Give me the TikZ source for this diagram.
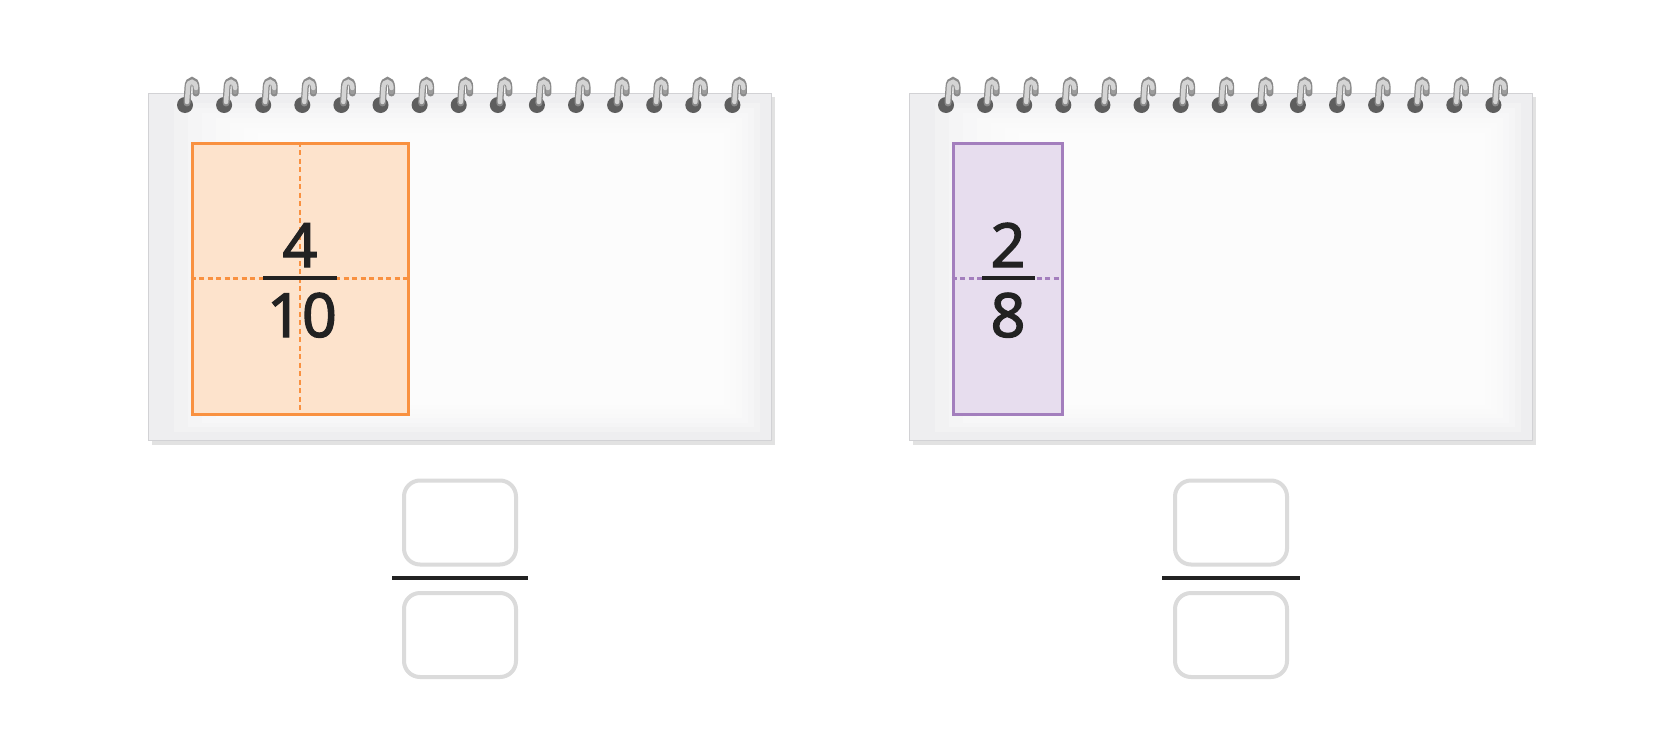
\documentclass[tikz,border=0pt]{standalone}
\usepackage{fontspec}
\setmainfont{Noto Sans}
\newfontfamily\digitfont[FakeBold=2]{Noto Sans}
\definecolor{papergray}{HTML}{EEEEF0}
\definecolor{paperedge}{HTML}{D2D2D5}
\definecolor{shadowgray}{HTML}{E2E2E2}
\definecolor{holegray}{HTML}{5E5E5E}
\definecolor{wireedge}{HTML}{8A8A8A}
\definecolor{wirelight}{HTML}{D4D4D4}
\definecolor{wiredark}{HTML}{9C9C9C}
\definecolor{orangeline}{HTML}{F99140}
\definecolor{orangefill}{HTML}{FDE3CC}
\definecolor{purpleline}{HTML}{A37EBD}
\definecolor{purplefill}{HTML}{E7DDEE}
\definecolor{boxgray}{HTML}{DBDBDB}
\definecolor{inkblack}{HTML}{222222}
\begin{document}
\begin{tikzpicture}[x=1pt,y=-1pt,
  papershadow/.style={fill=shadowgray, draw=none},
  paper/.style={fill=papergray, draw=paperedge, line width=1},
  paperglow/.style={fill=white, fill opacity=0.26, draw=none},
  hole/.style={fill=holegray, draw=none},
  wireout/.style={draw=wireedge, line width=7, line cap=round},
  wirein/.style={draw=wirelight, line width=4.5, line cap=round},
  wireback/.style={draw=wiredark, line width=4.5, line cap=round},
  orangebox/.style={draw=orangeline, fill=orangefill, line width=3, inner sep=0, minimum width=216, minimum height=271},
  purplebox/.style={draw=purpleline, fill=purplefill, line width=3, inner sep=0, minimum width=109, minimum height=271},
  orangedash/.style={draw=orangeline, line width=2.2, dash pattern=on 5 off 3.5},
  purpledash/.style={draw=purpleline, line width=2.2, dash pattern=on 5 off 3.5},
  digit/.style={font=\digitfont\fontsize{61}{61}\selectfont, text=inkblack, inner sep=0, anchor=base},
  fracbar/.style={draw=inkblack, line width=3.2},
  answerbox/.style={draw=boxgray, fill=white, line width=4, rounded corners=16, minimum width=112, minimum height=84, inner sep=0},
  answerbar/.style={draw=inkblack, line width=4}
]
\useasboundingbox (0,0) rectangle (1680,728);
\fill[white] (0,0) rectangle (1680,728);

% notepads
\foreach \px/\nm in {148/L, 909/R}{
  \fill[papershadow] (\px+4,97) rectangle (\px+627,445);
  \path[paper] (\px,93) rectangle (\px+623,440);
  \foreach \k in {1,...,12}{
    \fill[paperglow] (\px+12+14*\k,98+5*\k) rectangle (\px+618-6*\k,436-4.5*\k);
  }
  \foreach \i in {0,...,14}{
    \pgfmathsetmacro\rx{\px+37+39.1*\i}
    \fill[hole] (\rx,105) circle[radius=8];
    \draw[wireout] (\rx+11,93) -- (\rx+11,87) .. controls (\rx+11,78.5) and (\rx+3,78.5) .. (\rx+3,87) -- (\rx+2,103);
    \draw[wireback] (\rx+11,92) -- (\rx+11,88);
    \draw[wirein] (\rx+11,88) .. controls (\rx+11,80) and (\rx+3,80) .. (\rx+3,87) -- (\rx+2,102);
  }
}

% left model 4/10
\node[orangebox] (obox) at (300,278.5) {};
\draw[orangedash] (obox.north) -- (obox.south);
\draw[orangedash] (obox.west) -- (obox.east);
\coordinate (ofl) at (263,278);
\coordinate (ofr) at (337,278);
\draw[fracbar] (ofl) -- (ofr);
\node[digit] (onum) at (300,267) {4};
\node[digit] (oden) at (302,337) {10};

% right model 2/8
\node[purplebox] (pbox) at (1007.5,278.5) {};
\draw[purpledash] (pbox.west) -- (pbox.east);
\coordinate (pfl) at (982,278);
\coordinate (pfr) at (1035,278);
\draw[fracbar] (pfl) -- (pfr);
\node[digit] (pnum) at (1008,267) {2};
\node[digit] (pden) at (1008,337) {8};

% answer fractions
\node[answerbox] (la1) at (460,522.5) {};
\node[answerbox] (la2) at (460,635) {};
\coordinate (lbl) at (392,578);
\coordinate (lbr) at (528,578);
\draw[answerbar] (lbl) -- (lbr);

\node[answerbox] (ra1) at (1231,522.5) {};
\node[answerbox] (ra2) at (1231,635) {};
\coordinate (rbl) at (1162,578);
\coordinate (rbr) at (1300,578);
\draw[answerbar] (rbl) -- (rbr);
\end{tikzpicture}
\end{document}
